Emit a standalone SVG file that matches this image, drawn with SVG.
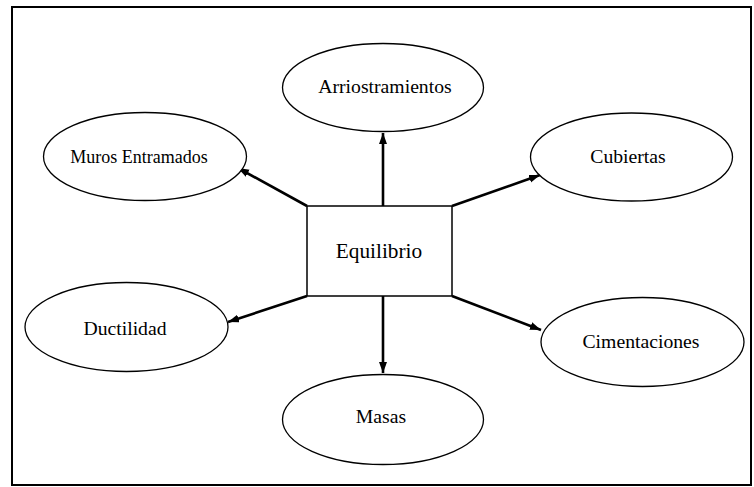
<svg xmlns="http://www.w3.org/2000/svg" width="754" height="487" viewBox="0 0 754 487">
<style>
.node ellipse{fill:#fff;stroke:#000;stroke-width:1.3}
.node rect{fill:#fff;stroke:#000;stroke-width:1.5}
text{fill:#000;text-anchor:middle;font-family:"Liberation Serif","Times New Roman",serif}
.conn line{stroke:#000;stroke-width:2.6}
</style>
<defs>
<marker id="arr" markerUnits="userSpaceOnUse" markerWidth="12" markerHeight="9" refX="11" refY="4" orient="auto">
<path d="M0,0 L11,4 L0,8 z" fill="#000"/>
</marker>
</defs>
<rect x="12" y="7" width="739" height="478" fill="#fff" stroke="#000" stroke-width="2"/>
<g id="connectors" class="conn">
<line x1="383" y1="206" x2="383" y2="133" marker-end="url(#arr)"/>
<line x1="383" y1="296" x2="383" y2="373" marker-end="url(#arr)"/>
<line x1="307" y1="206" x2="238" y2="168" marker-end="url(#arr)"/>
<line x1="452" y1="206" x2="540" y2="175" marker-end="url(#arr)"/>
<line x1="307" y1="296" x2="228" y2="322" marker-end="url(#arr)"/>
<line x1="452" y1="296" x2="541" y2="330" marker-end="url(#arr)"/>
</g>
<g id="equilibrio" class="node">
<rect x="307" y="206" width="145" height="90"/>
<text x="379" y="258" font-size="21.3">Equilibrio</text>
</g>
<g id="arriostramientos" class="node">
<ellipse cx="383" cy="87.5" rx="100.5" ry="44"/>
<text x="385" y="93" font-size="19.7">Arriostramientos</text>
</g>
<g id="muros" class="node">
<ellipse cx="145" cy="156.5" rx="101.5" ry="44"/>
<text x="139" y="162.5" font-size="18">Muros Entramados</text>
</g>
<g id="cubiertas" class="node">
<ellipse cx="631.5" cy="157" rx="101" ry="44"/>
<text x="628" y="162.5" font-size="19.7">Cubiertas</text>
</g>
<g id="ductilidad" class="node">
<ellipse cx="126.5" cy="327" rx="101.5" ry="44.5"/>
<text x="125" y="335" font-size="19.7">Ductilidad</text>
</g>
<g id="cimentaciones" class="node">
<ellipse cx="642.5" cy="342" rx="101.5" ry="44.5"/>
<text x="641" y="348" font-size="19.7">Cimentaciones</text>
</g>
<g id="masas" class="node">
<ellipse cx="383" cy="419.5" rx="100.5" ry="45"/>
<text x="381" y="423" font-size="19.7">Masas</text>
</g>
</svg>
